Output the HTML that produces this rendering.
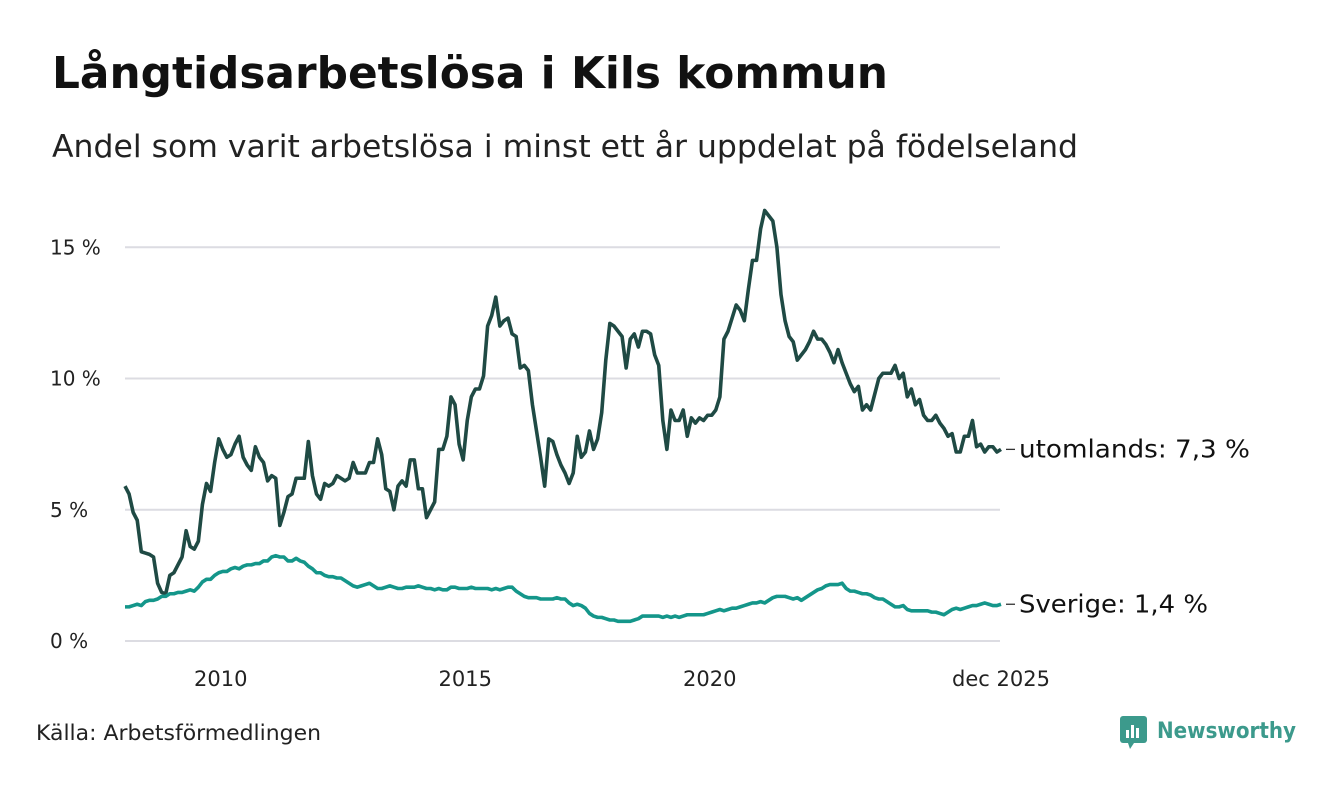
<!DOCTYPE html>
<html><head><meta charset="utf-8"><style>
body{margin:0;width:1340px;height:780px;background:#fff;font-family:"Liberation Sans","DejaVu Sans",sans-serif;overflow:hidden}
svg text{font-family:"DejaVu Sans","Liberation Sans",sans-serif}
</style></head><body>
<svg id="chart" width="1340" height="780">
<text x="52" y="88" font-size="44" font-weight="bold" fill="#111" textLength="836" lengthAdjust="spacingAndGlyphs">Långtidsarbetslösa i Kils kommun</text>
<text x="52" y="157" font-size="31" fill="#222" textLength="1026" lengthAdjust="spacingAndGlyphs">Andel som varit arbetslösa i minst ett år uppdelat på födelseland</text>
<g id="grid"></g><g id="series"></g>
<text x="36" y="740" font-size="21" fill="#222" textLength="285" lengthAdjust="spacingAndGlyphs">Källa: Arbetsförmedlingen</text>
<g>
<rect x="1120" y="716" width="27" height="27" rx="3" fill="#3c9a8c"/>
<rect x="1126" y="730" width="3" height="8" fill="#fff"/><rect x="1131" y="725" width="3" height="13" fill="#fff"/><rect x="1136" y="728" width="3" height="10" fill="#fff"/>
<polygon points="1128,743 1134,743 1130,749" fill="#3c9a8c"/>
<text x="1157" y="738" font-size="22" font-weight="bold" fill="#3c9a8c" textLength="139" lengthAdjust="spacingAndGlyphs">Newsworthy</text>
</g>
</svg>
<script>
const yTicks=[0,5,10,15];
const yTickLabels=["0 %","5 %","10 %","15 %"];
const xTickMonths=[24,84,144,215];
const xTickLabels=["2010","2015","2020","dec 2025"];
const utomlands=[5.9,5.6,4.9,4.6,3.4,3.35,3.3,3.2,2.2,1.85,1.8,2.5,
2.6,2.9,3.2,4.2,3.6,3.5,3.8,5.2,6.0,5.7,6.8,7.7,
7.3,7.0,7.1,7.5,7.8,7.0,6.7,6.5,7.4,7.0,6.8,6.1,
6.3,6.2,4.4,4.9,5.5,5.6,6.2,6.2,6.2,7.6,6.3,5.6,
5.4,6.0,5.9,6.0,6.3,6.2,6.1,6.2,6.8,6.4,6.4,6.4,
6.8,6.8,7.7,7.1,5.8,5.7,5.0,5.9,6.1,5.9,6.9,6.9,
5.8,5.8,4.7,5.0,5.3,7.3,7.3,7.8,9.3,9.0,7.5,6.9,
8.4,9.3,9.6,9.6,10.1,12.0,12.4,13.1,12.0,12.2,12.3,11.7,
11.6,10.4,10.5,10.3,9.0,8.0,7.0,5.9,7.7,7.6,7.1,6.7,
6.4,6.0,6.4,7.8,7.0,7.2,8.0,7.3,7.7,8.7,10.7,12.1,
12.0,11.8,11.6,10.4,11.5,11.7,11.2,11.8,11.8,11.7,10.9,10.5,
8.4,7.3,8.8,8.4,8.4,8.8,7.8,8.5,8.3,8.5,8.4,8.6,
8.6,8.8,9.3,11.5,11.8,12.3,12.8,12.6,12.2,13.4,14.5,14.5,
15.7,16.4,16.2,16.0,15.0,13.2,12.2,11.6,11.4,10.7,10.9,11.1,
11.4,11.8,11.5,11.5,11.3,11.0,10.6,11.1,10.6,10.2,9.8,9.5,
9.7,8.8,9.0,8.8,9.4,10.0,10.2,10.2,10.2,10.5,10.0,10.2,
9.3,9.6,9.0,9.2,8.6,8.4,8.4,8.6,8.3,8.1,7.8,7.9,
7.2,7.2,7.8,7.8,8.4,7.4,7.5,7.2,7.4,7.4,7.2,7.3];
const sverige=[1.3,1.3,1.35,1.4,1.35,1.5,1.55,1.55,1.6,1.7,1.7,1.8,
1.8,1.85,1.85,1.9,1.95,1.9,2.05,2.25,2.35,2.35,2.5,2.6,
2.65,2.65,2.75,2.8,2.75,2.85,2.9,2.9,2.95,2.95,3.05,3.05,
3.2,3.25,3.2,3.2,3.05,3.05,3.15,3.05,3.0,2.85,2.75,2.6,
2.6,2.5,2.45,2.45,2.4,2.4,2.3,2.2,2.1,2.05,2.1,2.15,
2.2,2.1,2.0,2.0,2.05,2.1,2.05,2.0,2.0,2.05,2.05,2.05,
2.1,2.05,2.0,2.0,1.95,2.0,1.95,1.95,2.05,2.05,2.0,2.0,
2.0,2.05,2.0,2.0,2.0,2.0,1.95,2.0,1.95,2.0,2.05,2.05,
1.9,1.8,1.7,1.65,1.65,1.65,1.6,1.6,1.6,1.6,1.65,1.6,
1.6,1.45,1.35,1.4,1.35,1.25,1.05,0.95,0.9,0.9,0.85,0.8,
0.8,0.75,0.75,0.75,0.75,0.8,0.85,0.95,0.95,0.95,0.95,0.95,
0.9,0.95,0.9,0.95,0.9,0.95,1.0,1.0,1.0,1.0,1.0,1.05,
1.1,1.15,1.2,1.15,1.2,1.25,1.25,1.3,1.35,1.4,1.45,1.45,
1.5,1.45,1.55,1.65,1.7,1.7,1.7,1.65,1.6,1.65,1.55,1.65,
1.75,1.85,1.95,2.0,2.1,2.15,2.15,2.15,2.2,2.0,1.9,1.9,
1.85,1.8,1.8,1.75,1.65,1.6,1.6,1.5,1.4,1.3,1.3,1.35,
1.2,1.15,1.15,1.15,1.15,1.15,1.1,1.1,1.05,1.0,1.1,1.2,
1.25,1.2,1.25,1.3,1.35,1.35,1.4,1.45,1.4,1.35,1.35,1.4];
const seriesNames=["utomlands","Sverige"];
const NS="http://www.w3.org/2000/svg";
const X0=125,X1=1001,Y0=641,PPU=26.25;
function xs(i){return X0+i*(X1-X0)/215;}
function ys(v){return Y0-v*PPU;}
function fmt(v){return v.toFixed(1).replace('.',',');}
const grid=document.getElementById('grid');
yTicks.forEach((t,k)=>{
 const l=document.createElementNS(NS,'line');
 l.setAttribute('x1',125);l.setAttribute('x2',1000);l.setAttribute('y1',ys(t));l.setAttribute('y2',ys(t));
 l.setAttribute('stroke','#dcdce2');l.setAttribute('stroke-width','2');
 
 
 grid.appendChild(l);
 const tx=document.createElementNS(NS,'text');
 tx.setAttribute('x',50);tx.setAttribute('y',ys(t)+7);tx.setAttribute('font-size','20');tx.setAttribute('fill','#222');
 tx.textContent=yTickLabels[k];
 
 
 grid.appendChild(tx);
});
xTickMonths.forEach((m,k)=>{
 const tx=document.createElementNS(NS,'text');
 tx.setAttribute('x',xs(m)-(k==3?0:2));tx.setAttribute('y',686);tx.setAttribute('font-size','21');tx.setAttribute('fill','#222');tx.setAttribute('text-anchor','middle');
 tx.textContent=xTickLabels[k];
 
 
 grid.appendChild(tx);
});
const sg=document.getElementById('series');
[[utomlands,'#1f4a44','line-utomlands'],[sverige,'#14968a','line-sverige']].forEach(([d,c,n],k)=>{
 const p=document.createElementNS(NS,'polyline');
 p.setAttribute('points',d.map((v,i)=>xs(i)+','+ys(v)).join(' '));
 p.setAttribute('fill','none');p.setAttribute('stroke',c);p.setAttribute('stroke-width','3.6');p.setAttribute('stroke-linejoin','round');
 
 
 sg.appendChild(p);
 const last=d[d.length-1],y=ys(last);
 const ld=document.createElementNS(NS,'line');
 ld.setAttribute('x1',1006);ld.setAttribute('x2',1015);ld.setAttribute('y1',y);ld.setAttribute('y2',y);ld.setAttribute('stroke','#333');ld.setAttribute('stroke-width','1.3');
 
 
 sg.appendChild(ld);
 const t=document.createElementNS(NS,'text');
 t.setAttribute('x',1019);t.setAttribute('y',y+8);t.setAttribute('font-size','25');t.setAttribute('fill','#111');
 t.textContent=seriesNames[k]+': '+fmt(last)+' %';
 t.setAttribute('textLength',k==0?231:189);
 t.setAttribute('lengthAdjust','spacingAndGlyphs');
 
 
 sg.appendChild(t);
});
</script>
</body></html>
